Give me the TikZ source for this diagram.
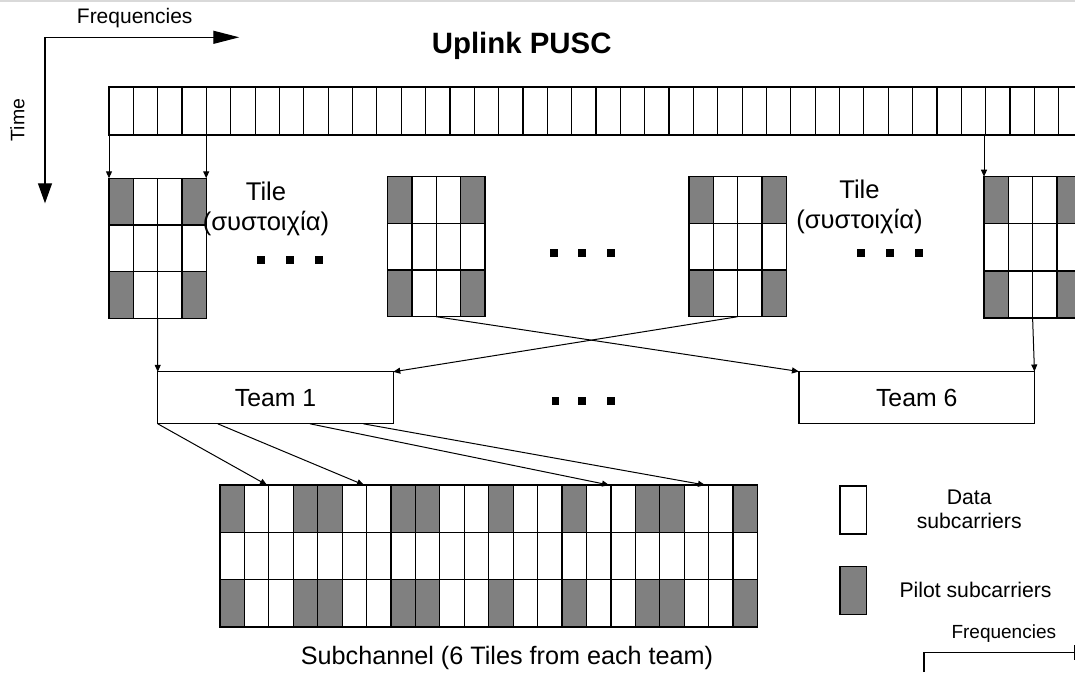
\documentclass[tikz,border=0pt]{standalone}
\usepackage{fontspec}
\setmainfont{Liberation Sans}
\usetikzlibrary{arrows.meta,calc}
\definecolor{pilotgray}{HTML}{808080}
\tikzset{
  tilebox/.style={rectangle, draw=none, inner sep=0pt, outer sep=0pt, minimum width=97.2pt},
  cell/.style={draw=black, line width=1.2pt, fill=white},
  pilot/.style={cell, fill=pilotgray},
  conn/.style={draw=black, line width=1pt, -{Triangle[length=7pt,width=6pt]}},
  teambox/.style={draw=black, line width=1.2pt, rectangle, inner sep=0pt, outer sep=0pt,
    minimum width=235.5pt, minimum height=52pt, font=\fontsize{24.8}{29}\selectfont},
  dotsq/.style={fill=black},
  lbl/.style={inner sep=0pt, outer sep=0pt},
  axis/.style={draw=black, line width=1.2pt},
  legbox/.style={draw=black, line width=1.2pt, rectangle, inner sep=0pt, outer sep=0pt,
    minimum width=26.7pt, minimum height=48pt, anchor=north west}
}
\newcommand\mytile[4]{%
  \node[tilebox, minimum height={3*#4pt}, anchor=north west] (#3) at (#1,#2) {};
  \foreach \c in {0,...,3}{\foreach \r in {0,1,2}{\draw[cell] ({#1+\c*24.3},{#2+\r*#4}) rectangle ++(24.3,#4);}}%
  \foreach \c in {0,3}{\foreach \r in {0,2}{\draw[pilot] ({#1+\c*24.3},{#2+\r*#4}) rectangle ++(24.3,#4);}}%
}
\begin{document}
\begin{tikzpicture}[x=1pt,y=-1pt]
\useasboundingbox (0,0) rectangle (1075,672);
\clip (0,0) rectangle (1075,672);
\fill[black!15] (0,0) rectangle (1075,2);

% axes top-left
\coordinate (ax0) at (45,37.3);
\coordinate (axf) at (239.3,37.3);
\coordinate (axt) at (45,203.3);
\draw[axis, -{Triangle[length=26pt,width=13pt]}] (ax0) -- (axf);
\draw[axis, -{Triangle[length=20pt,width=14pt]}] (ax0) -- (axt);
\node[lbl, anchor=base, font=\fontsize{21}{25}\selectfont] (freqtop) at (134.7,23) {Frequencies};
\node[lbl, rotate=90, font=\fontsize{19.5}{23}\selectfont] (timelbl) at (17.5,120) {Time};

% title
\node[lbl, anchor=base, font=\fontsize{29.4}{34}\selectfont\bfseries] (title) at (521.7,53.3) {Uplink PUSC};

% top strip
\node[tilebox, minimum width=974pt, minimum height=48pt, anchor=north west] (strip) at (109,87) {};
\foreach \k in {0,...,39} \draw[cell] ({109+\k*24.35},87) rectangle ++(24.35,48);

% tiles
\mytile{109}{178.3}{tileA}{46.67}
\mytile{387.7}{176.7}{tileB}{46.67}
\mytile{689}{176.7}{tileC}{46.67}
\mytile{984}{176.7}{tileD}{47.1}

\node[lbl, align=center, font=\fontsize{25.6}{30}\selectfont] (tilelblA) at (266,208.6) {Tile\\(συστοιχία)};
\node[lbl, align=center, font=\fontsize{25.6}{30}\selectfont] (tilelblB) at (859.5,207) {Tile\\(συστοιχία)};

% dots
\foreach \cx/\cy in {261/260, 290/260, 319/260, 554/252.5, 582/252.5, 611/252.5, 861/252.5, 890/252.5, 919/252.5}
  \fill[dotsq] ({\cx-4},{\cy-4}) rectangle ++(8,8);
\foreach \cx/\cy in {555.5/401, 582/401, 611/401}
  \fill[dotsq] ({\cx-3.7},{\cy-3.7}) rectangle ++(7.4,7.4);

% teams
\node[teambox] (team1) at (275.5,397.8) {Team 1};
\node[teambox] (team6) at (916.7,397.5) {Team 6};

% bottom strip
\node[tilebox, minimum width=537.5pt, minimum height=142pt, anchor=north west] (sub) at (220,485) {};
\foreach \k in {0,...,21}{\foreach \r in {0,1,2}{\draw[cell] ({220+\k*24.432},{485+\r*47.33}) rectangle ++(24.432,47.33);}}
\foreach \k in {0,3,4,7,8,11,14,17,18,21}{\foreach \r in {0,2}{\draw[pilot] ({220+\k*24.432},{485+\r*47.33}) rectangle ++(24.432,47.33);}}
\node[lbl, anchor=base, font=\fontsize{25.2}{30}\selectfont] (sublbl) at (507,664) {Subchannel (6 Tiles from each team)};

% connectors
\draw[conn] (strip.south -| tileA.north west) -- (tileA.north west);
\draw[conn] (strip.south -| tileA.north east) -- (tileA.north east);
\draw[conn] (strip.south -| tileD.north west) -- (tileD.north west);
\draw[conn] (tileA.south) -- (team1.north west);
\draw[conn] (tileB.south) -- (team6.north west);
\draw[conn] (tileC.south) -- (team1.north east);
\draw[conn] (tileD.south) -- (team6.north east);
\draw[conn] (team1.south west) -- ($(sub.north west)+(47,0)$);
\draw[conn] ($(team1.south west)+(60,0)$) -- ($(sub.north west)+(144,0)$);
\draw[conn] ($(team1.south west)+(152.3,0)$) -- ($(sub.north west)+(389,0)$);
\draw[conn] ($(team1.south west)+(205.6,0)$) -- ($(sub.north west)+(485,0)$);

% legend
\node[legbox, fill=white] (legD) at (840,486) {};
\node[legbox, fill=pilotgray] (legP) at (840,566.7) {};
\node[lbl, align=center, font=\fontsize{21.2}{23.3}\selectfont] (legDlbl) at (969.2,509.4) {Data\\subcarriers};
\node[lbl, anchor=base, font=\fontsize{21.2}{25}\selectfont] (legPlbl) at (975.5,597.3) {Pilot subcarriers};

% bottom-right axis
\node[lbl, anchor=base, font=\fontsize{19}{23}\selectfont] (freqbot) at (1003.8,638.3) {Frequencies};
\coordinate (bx0) at (924,652.7);
\coordinate (bxd) at (924,672);
\coordinate (bxf) at (1074.3,652.7);
\draw[axis] (bxd) -- (bx0) -- (bxf);
\draw[axis] ($(bxf)+(0,-7.7)$) -- ($(bxf)+(0,7.3)$);
\end{tikzpicture}
\end{document}
